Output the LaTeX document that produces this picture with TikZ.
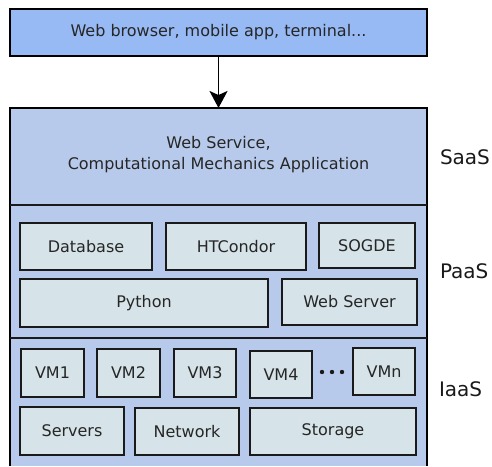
\documentclass[tikz,border=0pt]{standalone}
\usepackage{fontspec}
\setmainfont{DejaVu Sans}
\usetikzlibrary{arrows.meta}
\definecolor{clientblue}{HTML}{97B9F4}
\definecolor{layerblue}{HTML}{B8CAEC}
\definecolor{partfill}{HTML}{D6E3E8}
\definecolor{edgedark}{HTML}{1A1A1A}
\tikzset{
  every node/.style={font=\fontsize{16}{21}\selectfont, inner sep=0pt, outer sep=0pt},
  part/.style={draw=edgedark, line width=1.8pt, fill=partfill, text=black!85},
  layer/.style={font=\fontsize{20}{24}\selectfont, anchor=west, text=black!90},
}
\begin{document}
\begin{tikzpicture}[x=1pt, y=-1pt]
\useasboundingbox (0,0) rectangle (492,466);

% client box and request arrow
\node[draw=black, line width=1.8pt, fill=clientblue, minimum width=417pt, minimum height=47pt, text=black!85]
  (client) at (218.5,32.5) {Web browser, mobile app, terminal...};

% cloud stack background
\fill[layerblue] (10,108) rectangle (427,466);
\draw[black, line width=2pt] (10,466) -- (10,108) -- (427,108) -- (427,466);
\coordinate (stacktop) at (218.5,108);
\draw[line width=1.8pt, -{Stealth[length=17pt, width=18pt, inset=4pt]}] (client.south) -- (stacktop);

% layer dividers
\draw[edgedark, line width=1.8pt] (10,205) -- (427,205);
\draw[edgedark, line width=1.8pt] (10,338) -- (427,338);

% SaaS
\node[align=center, text=black!85] (app) at (218.5,155) {Web Service,\\Computational Mechanics Application};

% PaaS
\node[part, minimum width=132pt, minimum height=47pt] (db) at (86,246.5) {Database};
\node[part, minimum width=140pt, minimum height=47pt] (condor) at (236,246.5) {HTCondor};
\node[part, minimum width=96pt, minimum height=45pt] (sogde) at (367,245.5) {SOGDE};
\node[part, minimum width=248pt, minimum height=48pt] (python) at (144,303) {Python};
\node[part, minimum width=135pt, minimum height=46pt] (web) at (349.5,302) {Web Server};

% IaaS
\node[part, minimum width=63pt, minimum height=48pt] (vm1) at (52.5,373) {VM1};
\node[part, minimum width=63pt, minimum height=48pt] (vm2) at (128.5,373) {VM2};
\node[part, minimum width=62pt, minimum height=48pt] (vm3) at (205,373) {VM3};
\node[part, minimum width=62pt, minimum height=47pt] (vm4) at (281,374.5) {VM4};
\node[part, minimum width=62pt, minimum height=47pt] (vmn) at (384,371.5) {VMn};
\foreach \dx in {322,332,342} \fill[edgedark] (\dx,372) circle (2.2pt);
\node[part, minimum width=104pt, minimum height=48pt] (servers) at (72,431) {Servers};
\node[part, minimum width=104pt, minimum height=47pt] (network) at (187,431.5) {Network};
\node[part, minimum width=166pt, minimum height=47pt] (storage) at (333,431.5) {Storage};

% layer labels
\node[layer] (saas) at (440,157) {SaaS};
\node[layer] (paas) at (440,271) {PaaS};
\node[layer] (iaas) at (439,389) {IaaS};
\end{tikzpicture}
\end{document}
